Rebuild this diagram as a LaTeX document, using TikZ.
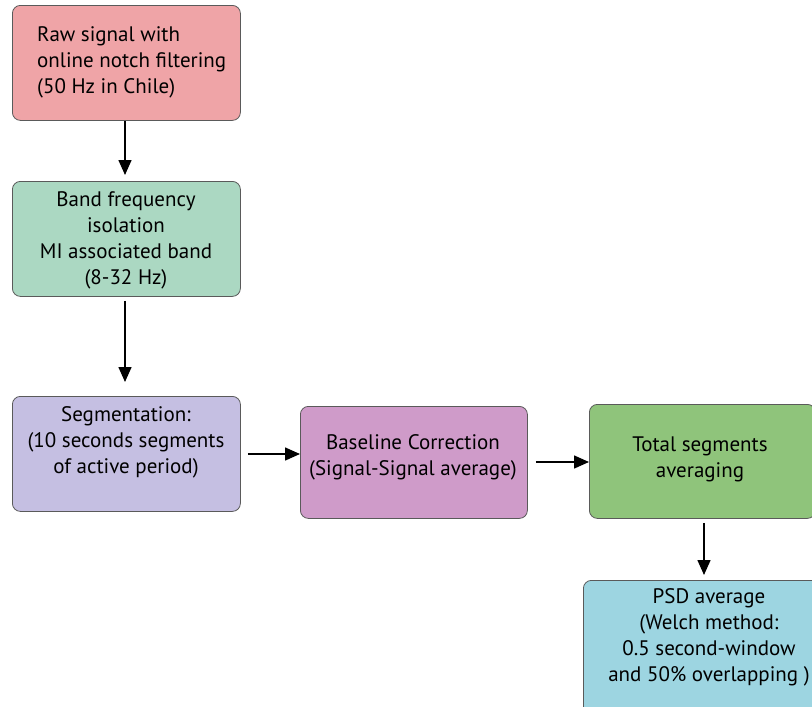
\documentclass[tikz,border=0pt]{standalone}
\usepackage{fontspec}
\setmainfont{PT Sans}
\usetikzlibrary{arrows.meta}
\definecolor{boxline}{HTML}{5A5A5A}
\definecolor{rawfill}{HTML}{EFA4A7}
\definecolor{bandfill}{HTML}{ABD8C2}
\definecolor{segfill}{HTML}{C5BFE2}
\definecolor{basefill}{HTML}{CF9BC9}
\definecolor{totfill}{HTML}{8FC47B}
\definecolor{psdfill}{HTML}{9DD5E1}
\begin{document}
\begin{tikzpicture}[x=1pt,y=-1pt,
  stage/.style={draw=boxline, line width=0.8pt, rounded corners=8pt, inner sep=0pt,
    anchor=north west, minimum width=#1},
  stage/.default=228pt,
  lbl/.style={font=\fontsize{21}{26}\selectfont, align=center, inner sep=0pt},
  arr/.style={-{Triangle[length=15pt,width=13pt]}, line width=1.5pt}]
\useasboundingbox (0,0) rectangle (812,707);
\clip (0,0) rectangle (812,707);

% processing stages
\node[stage, fill=rawfill,  minimum height=115pt] (raw)  at (12,5)    {};
\node[stage, fill=bandfill, minimum height=115pt] (band) at (12,181)  {};
\node[stage, fill=segfill,  minimum height=115pt] (seg)  at (12,396)  {};
\node[stage=227pt, fill=basefill, minimum height=112pt] (base) at (300,406) {};
\node[stage=226pt, fill=totfill,  minimum height=114pt] (tot)  at (589,404) {};
\node[stage=252pt, fill=psdfill,  minimum height=135pt] (psd)  at (583,580) {};

% stage texts
\node[lbl, align=left, anchor=west] (rawt) at (37,62)
  {Raw signal with\\online notch filtering\\(50 Hz in Chile)};
\node[lbl] (bandt) at (126,240)
  {Band frequency\\isolation\\MI associated band\\(8-32 Hz)};
\node[lbl] (segt) at (126,442)
  {Segmentation:\\(10 seconds segments\\of active period)};
\node[lbl] (baset) at (413,457)
  {Baseline Correction\\(Signal-Signal average)};
\node[lbl] (tott) at (700,459)
  {Total segments\\averaging};
\node[lbl] (psdt) at (709,637)
  {PSD average\\(Welch method:\\0.5 second-window\\and 50\% overlapping )};

% flow
\draw[arr, shorten >=6pt] (raw.south -| 125,0) -- (band.north -| 125,0);
\draw[arr, shorten <=4pt, shorten >=14pt] (band.south -| 125,0) -- (seg.north -| 125,0);
\draw[arr, shorten <=7pt] (seg.east |- 0,454) -- (base.west |- 0,454);
\draw[arr, shorten <=8pt] (base.east |- 0,462) -- (tot.west |- 0,462);
\draw[arr, shorten <=4pt, shorten >=5pt] (tot.south -| 704,0) -- (psd.north -| 704,0);
\end{tikzpicture}
\end{document}
